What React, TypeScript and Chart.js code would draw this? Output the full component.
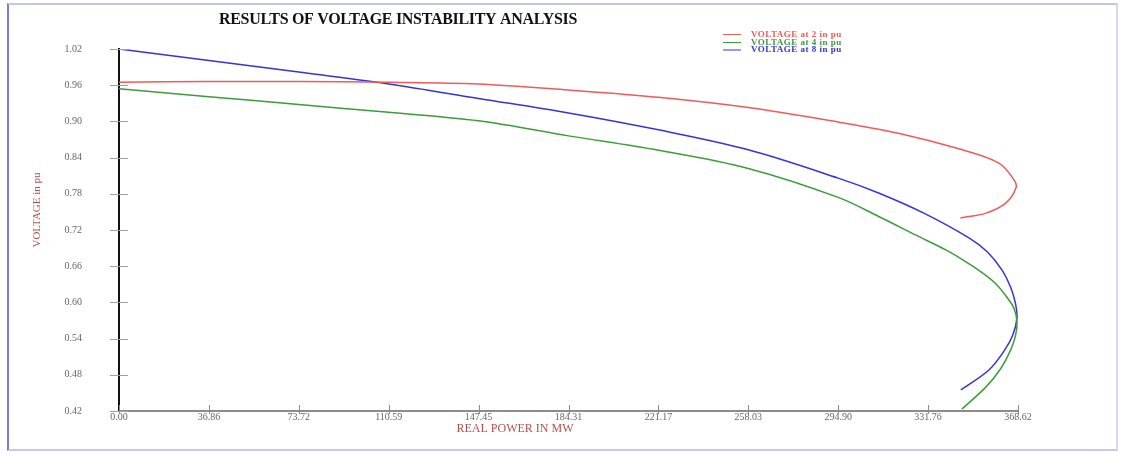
import React, { useEffect, useRef } from "react";
import { Chart, registerables } from "chart.js";

Chart.register(...registerables);

const TITLE = "RESULTS OF VOLTAGE INSTABILITY ANALYSIS";
const X_TITLE = "REAL POWER IN MW";
const Y_TITLE = "VOLTAGE in pu";
const SERIES_LABELS = ["VOLTAGE at 2 in pu", "VOLTAGE at 4 in pu", "VOLTAGE at 8 in pu"];
const SERIES_COLORS = ["#f05a5a", "#3c9c3c", "#3434d8"];

const X_TICKS = [0, 36.86, 73.72, 110.59, 147.45, 184.31, 221.17, 258.03, 294.9, 331.76, 368.62];
const X_TICK_LABELS = ["0.00", "36.86", "73.72", "110.59", "147.45", "184.31", "221.17", "258.03", "294.90", "331.76", "368.62"];
const Y_TICKS = [0.42, 0.48, 0.54, 0.6, 0.66, 0.72, 0.78, 0.84, 0.9, 0.96, 1.02];
const Y_TICK_LABELS = ["0.42", "0.48", "0.54", "0.60", "0.66", "0.72", "0.78", "0.84", "0.90", "0.96", "1.02"];

// Bus 2 (red)
const RED_P = [0, 36.86, 73.72, 110.59, 147.45, 184.31, 221.17, 258.03, 294.9, 320, 344, 360.8, 367, 367.8, 363.7, 355.5, 345];
const RED_V = [0.965, 0.966, 0.966, 0.965, 0.962, 0.952, 0.94, 0.923, 0.899, 0.88, 0.855, 0.831, 0.803, 0.79, 0.765, 0.748, 0.74];

// Bus 4 (green)
const GREEN_P = [0, 36.86, 73.72, 110.59, 147.45, 184.31, 221.17, 258.03, 294.9, 311.7, 327, 339, 347, 354, 359.5, 364, 367, 368.2, 367.6, 365.5, 361.5, 355.5, 345.6];
const GREEN_V = [0.954, 0.941, 0.928, 0.915, 0.901, 0.876, 0.852, 0.822, 0.774, 0.742, 0.711, 0.687, 0.668, 0.649, 0.631, 0.609, 0.59, 0.568, 0.545, 0.52, 0.49, 0.46, 0.423];

// Bus 8 (blue)
const BLUE_P = [0, 36.86, 73.72, 110.59, 147.45, 184.31, 221.17, 258.03, 294.9, 311.7, 330, 348.5, 356, 362, 365.6, 367.6, 368.2, 366.4, 363, 356.7, 345.2];
const BLUE_V = [1.02, 1.001, 0.982, 0.962, 0.938, 0.914, 0.886, 0.853, 0.806, 0.781, 0.748, 0.707, 0.684, 0.654, 0.625, 0.598, 0.574, 0.545, 0.52, 0.488, 0.455];

const toPoints = (p: number[], v: number[]) => p.map((x, i) => ({ x, y: v[i] }));

const decorPlugin = {
  id: "decor",
  afterDraw(chart: any) {
    const ctx = chart.ctx as CanvasRenderingContext2D;
    const xs = chart.scales.x;
    const ys = chart.scales.y;
    const area = chart.chartArea;
    ctx.save();

    // tick marks
    ctx.strokeStyle = "#8a8a8a";
    ctx.lineWidth = 1;
    X_TICKS.forEach((v) => {
      const px = Math.round(xs.getPixelForValue(v)) + 0.5;
      ctx.beginPath();
      ctx.moveTo(px, area.bottom - 6);
      ctx.lineTo(px, area.bottom + 3);
      ctx.stroke();
    });
    ctx.strokeStyle = "#a0a0a0";
    Y_TICKS.forEach((v) => {
      const py = Math.round(ys.getPixelForValue(v)) + 0.5;
      ctx.beginPath();
      ctx.moveTo(area.left - 9, py);
      ctx.lineTo(area.left + 9, py);
      ctx.stroke();
    });

    // main title
    ctx.fillStyle = "#111";
    ctx.font = "bold 16px 'Liberation Serif', serif";
    ctx.textAlign = "center";
    ctx.textBaseline = "middle";
    try { (ctx as any).letterSpacing = "-0.3px"; } catch (e) {}
    ctx.fillText(TITLE, 398, 20);
    try { (ctx as any).letterSpacing = "0px"; } catch (e) {}

    // x title
    ctx.fillStyle = "#b85050";
    ctx.font = "12px 'Liberation Serif', serif";
    ctx.fillText(X_TITLE, 515, 429);

    // y title
    ctx.save();
    ctx.translate(37, 210);
    ctx.rotate(-Math.PI / 2);
    ctx.font = "11px 'Liberation Serif', serif";
    ctx.fillText(Y_TITLE, 0, 0);
    ctx.restore();

    // legend
    const lx = 723;
    const ly = [34, 42, 49.5];
    chart.data.datasets.forEach((ds: any, i: number) => {
      ctx.strokeStyle = ds.borderColor;
      ctx.lineWidth = 1;
      ctx.beginPath();
      ctx.moveTo(lx, ly[i] + 0.5);
      ctx.lineTo(lx + 18, ly[i] + 0.5);
      ctx.stroke();
      ctx.fillStyle = ds.borderColor;
      ctx.font = "bold 9px 'Liberation Serif', serif";
      ctx.textAlign = "left";
      ctx.textBaseline = "middle";
      try { (ctx as any).letterSpacing = "0.5px"; } catch (e) {}
      ctx.fillText(ds.label, lx + 28, ly[i] + 0.5);
      try { (ctx as any).letterSpacing = "0px"; } catch (e) {}
    });
    ctx.restore();
  },
};

export default function App() {
  const ref = useRef<HTMLCanvasElement | null>(null);

  useEffect(() => {
    if (!ref.current) return;
    const series = [
      toPoints(RED_P, RED_V),
      toPoints(GREEN_P, GREEN_V),
      toPoints(BLUE_P, BLUE_V),
    ];
    const chart = new Chart(ref.current, {
      type: "scatter",
      data: {
        datasets: series.map((d, i) => ({
          label: SERIES_LABELS[i],
          data: d,
          showLine: true,
          borderColor: SERIES_COLORS[i],
          backgroundColor: SERIES_COLORS[i],
          borderWidth: 1.5,
          pointRadius: 0,
          tension: 0.35,
        })),
      },
      options: {
        responsive: false,
        animation: false,
        events: [],
        layout: { padding: { top: 49, right: 103, bottom: 0, left: 0 } },
        plugins: {
          legend: { display: false },
          title: { display: false },
          tooltip: { enabled: false },
        },
        scales: {
          x: {
            type: "linear",
            min: 0,
            max: 368.62,
            afterBuildTicks: (s: any) => {
              s.ticks = X_TICKS.map((v) => ({ value: v }));
            },
            afterFit: (s: any) => {
              s.height = 43;
            },
            grid: { display: true, drawOnChartArea: false, drawTicks: false },
            border: { display: true, color: "#8c8c8c", width: 2 },
            ticks: {
              autoSkip: false,
              maxRotation: 0,
              padding: 0,
              color: "#666",
              font: { family: "'Liberation Serif', serif", size: 10 },
              callback: (_v: any, i: number) => X_TICK_LABELS[i],
            },
          },
          y: {
            type: "linear",
            min: 0.42,
            max: 1.02,
            afterBuildTicks: (s: any) => {
              s.ticks = Y_TICKS.map((v) => ({ value: v }));
            },
            afterFit: (s: any) => {
              s.width = 119;
            },
            grid: { display: true, drawOnChartArea: false, drawTicks: false },
            border: { display: true, color: "#111", width: 2 },
            ticks: {
              autoSkip: false,
              padding: 37,
              color: "#666",
              font: { family: "'Liberation Serif', serif", size: 10 },
              callback: (_v: any, i: number) => Y_TICK_LABELS[i],
            },
          },
        },
      },
      plugins: [decorPlugin],
    } as any);
    return () => chart.destroy();
  }, []);

  return (
    <div style={{ position: "fixed", left: 0, top: 0, width: 1121, height: 454, background: "#fff" }}>
      <div
        style={{
          position: "absolute",
          left: 7,
          top: 3,
          width: 1111,
          height: 448,
          boxSizing: "border-box",
          borderTop: "2px solid #c4c4ee",
          borderRight: "2px solid #d8d8f2",
          borderBottom: "2px solid #c8c8ee",
          borderLeft: "2px solid #7a7ade",
        }}
      />
      <canvas ref={ref} width={1121} height={454} style={{ position: "absolute", left: 0, top: 0 }} />
    </div>
  );
}
